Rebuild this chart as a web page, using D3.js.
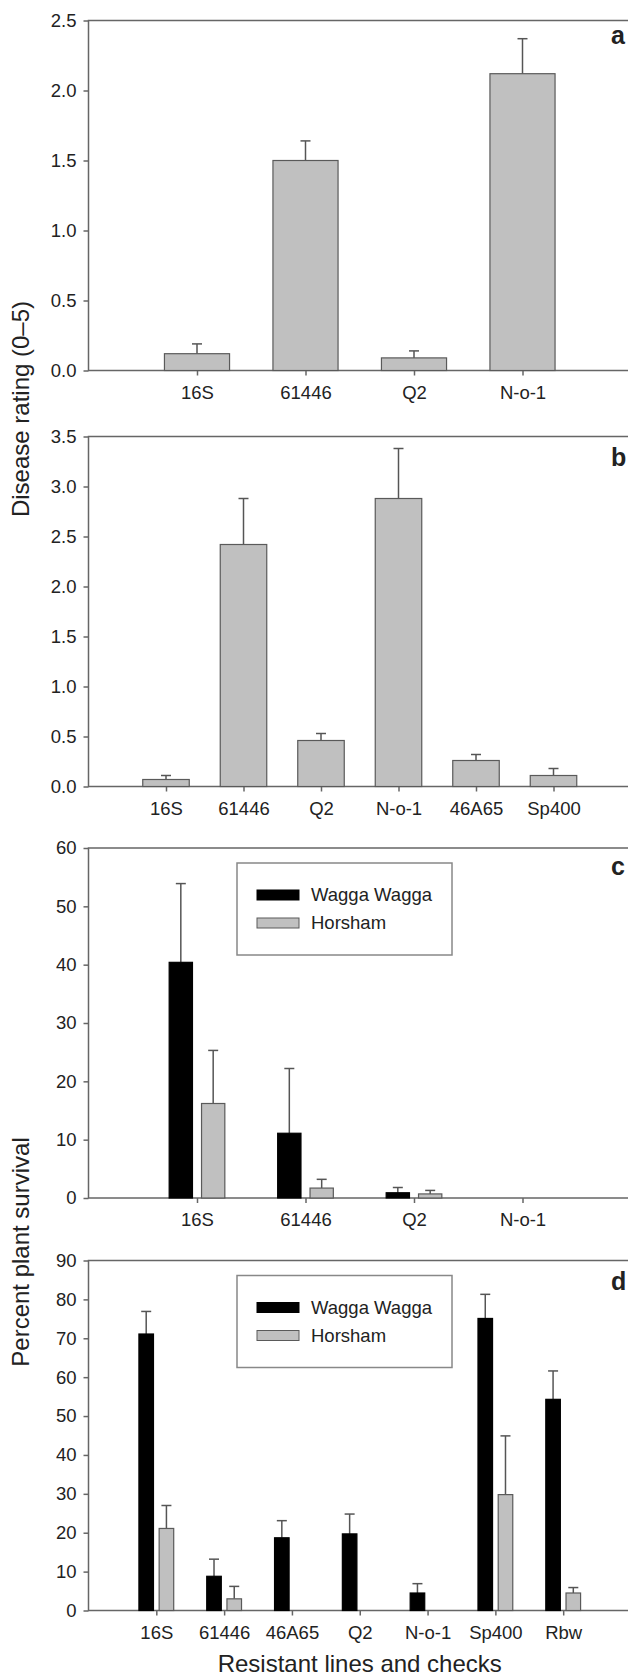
<!DOCTYPE html>
<html>
<head>
<meta charset="utf-8">
<script src="https://cdn.jsdelivr.net/npm/d3@7"></script>
<style>
  body { margin: 0; background: #fff; }
  text { font-family: "Liberation Sans", Arial, sans-serif; }
</style>
</head>
<body>
<div id="chart"></div>
<script>
var width = 628, height = 1678;

// a - disease rating, first trial
var catsA = ["16S", "61446", "Q2", "N-o-1"];
var ratingA = [0.12, 1.50, 0.09, 2.12];
var ratingErrA = [0.07, 0.14, 0.05, 0.25];
var yTicksA = [0, 0.5, 1.0, 1.5, 2.0, 2.5];

// b - disease rating, second trial
var catsB = ["16S", "61446", "Q2", "N-o-1", "46A65", "Sp400"];
var ratingB = [0.07, 2.42, 0.46, 2.88, 0.26, 0.11];
var ratingErrB = [0.04, 0.46, 0.07, 0.50, 0.06, 0.07];
var yTicksB = [0, 0.5, 1.0, 1.5, 2.0, 2.5, 3.0, 3.5];

// c - plant survival
var catsC = ["16S", "61446", "Q2", "N-o-1"];
var waggaC = [40.4, 11.1, 0.9, 0];
var waggaErrC = [13.5, 11.1, 0.9, 0];
var horshamC = [16.2, 1.7, 0.7, 0];
var horshamErrC = [9.1, 1.5, 0.6, 0];
var yTicksC = [0, 10, 20, 30, 40, 50, 60];

// d - plant survival
var catsD = ["16S", "61446", "46A65", "Q2", "N-o-1", "Sp400", "Rbw"];
var waggaD = [71.1, 8.8, 18.7, 19.7, 4.5, 75.1, 54.3];
var waggaErrD = [5.8, 4.4, 4.4, 5.1, 2.4, 6.2, 7.3];
var horshamD = [21.1, 3.0, 0, 0, 0, 29.8, 4.5];
var horshamErrD = [5.9, 3.2, 0, 0, 0, 15.1, 1.4];
var yTicksD = [0, 10, 20, 30, 40, 50, 60, 70, 80, 90];

var siteNames = ["Wagga Wagga", "Horsham"];

var axisColor = "#666", textColor = "#222";
var grey = "#c0c0c0", black = "#000";
var left = 88.5, right = 631, plotH = 350;

var panels = [
  { letter: "a", top: 20.5, letterDy: 23.5, yMax: 2.5, ticks: yTicksA, fmt: d3.format(".1f"), cats: catsA,
    series: [{ name: "rating", values: ratingA, errs: ratingErrA, fill: grey }] },
  { letter: "b", top: 436.5, letterDy: 29, yMax: 3.5, ticks: yTicksB, fmt: d3.format(".1f"), cats: catsB,
    series: [{ name: "rating", values: ratingB, errs: ratingErrB, fill: grey }] },
  { letter: "c", top: 848, letterDy: 27, yMax: 60, ticks: yTicksC, fmt: d3.format("d"), cats: catsC, legend: true,
    series: [{ name: siteNames[0], values: waggaC, errs: waggaErrC, fill: black },
             { name: siteNames[1], values: horshamC, errs: horshamErrC, fill: grey }] },
  { letter: "d", top: 1260.5, letterDy: 29.5, yMax: 90, ticks: yTicksD, fmt: d3.format("d"), cats: catsD, legend: true,
    series: [{ name: siteNames[0], values: waggaD, errs: waggaErrD, fill: black },
             { name: siteNames[1], values: horshamD, errs: horshamErrD, fill: grey }] }
];

var svg = d3.select("#chart").append("svg")
    .attr("width", width)
    .attr("height", height);

panels.forEach(function(p) {
  var g = svg.append("g").attr("transform", "translate(0," + p.top + ")");

  var x = d3.scalePoint().domain(p.cats).range([left, right]).padding(1);
  var y = d3.scaleLinear().domain([0, p.yMax]).range([plotH, 0]);
  var step = x.step();
  var half = p.series.length > 1 ? 0.2565 * step : 0.3 * step;
  var sub = d3.scaleBand()
      .domain(p.series.map(function(s) { return s.name; }))
      .range([-half, half])
      .paddingInner(p.series.length > 1 ? 0.28 : 0);

  // frame
  g.append("rect")
      .attr("x", left).attr("y", 0)
      .attr("width", right - left).attr("height", plotH)
      .attr("fill", "none")
      .attr("stroke", axisColor)
      .attr("stroke-width", 1.5);

  var yAxis = g.append("g")
      .attr("transform", "translate(" + left + ",0)")
      .call(d3.axisLeft(y).tickValues(p.ticks).tickFormat(p.fmt).tickSize(5).tickPadding(7));

  var xAxis = g.append("g")
      .attr("transform", "translate(0," + plotH + ")")
      .call(d3.axisBottom(x).tickSize(5).tickPadding(10));

  [yAxis, xAxis].forEach(function(ax) {
    ax.select(".domain").remove();
    ax.selectAll("line").attr("stroke", axisColor).attr("stroke-width", 1.5);
    ax.selectAll("text").attr("fill", textColor).style("font-size", "18.5px")
      .style("font-family", "'Liberation Sans', Arial, sans-serif");
  });

  // bars + error bars
  p.series.forEach(function(s) {
    var rows = p.cats.map(function(c, i) { return { cat: c, v: s.values[i], e: s.errs[i] }; });
    var bx = function(d) { return x(d.cat) + sub(s.name); };
    var cx = function(d) { return bx(d) + sub.bandwidth() / 2; };

    var withErr = rows.filter(function(d) { return d.e > 0; });
    g.selectAll(null).data(withErr).enter().append("line")
        .attr("x1", cx).attr("x2", cx)
        .attr("y1", function(d) { return y(d.v); })
        .attr("y2", function(d) { return y(d.v + d.e); })
        .attr("stroke", "#555").attr("stroke-width", 1.5);
    g.selectAll(null).data(withErr).enter().append("line")
        .attr("x1", function(d) { return cx(d) - 5; })
        .attr("x2", function(d) { return cx(d) + 5; })
        .attr("y1", function(d) { return y(d.v + d.e); })
        .attr("y2", function(d) { return y(d.v + d.e); })
        .attr("stroke", "#555").attr("stroke-width", 1.5);

    g.selectAll(null).data(rows.filter(function(d) { return d.v > 0; })).enter().append("rect")
        .attr("x", bx)
        .attr("y", function(d) { return y(d.v); })
        .attr("width", sub.bandwidth())
        .attr("height", function(d) { return plotH - y(d.v); })
        .attr("fill", s.fill)
        .attr("stroke", s.fill === black ? black : "#5a5a5a")
        .attr("stroke-width", 1.2);
  });

  // panel letter
  g.append("text")
      .attr("x", 611).attr("y", p.letterDy)
      .attr("fill", textColor)
      .style("font-size", "25px").style("font-weight", "bold")
      .text(p.letter);

  if (p.legend) {
    var lg = g.append("g").attr("transform", "translate(237,15)");
    lg.append("rect")
        .attr("width", 215).attr("height", 92)
        .attr("fill", "#fff").attr("stroke", "#888").attr("stroke-width", 1.5);
    var item = lg.selectAll("g.item").data(p.series).enter().append("g")
        .attr("class", "item")
        .attr("transform", function(d, i) { return "translate(20," + (27 + i * 28) + ")"; });
    item.append("rect")
        .attr("width", 42).attr("height", 10)
        .attr("fill", function(d) { return d.fill; })
        .attr("stroke", function(d) { return d.fill === black ? black : "#5a5a5a"; })
        .attr("stroke-width", 1);
    item.append("text")
        .attr("x", 54).attr("y", 5).attr("dy", "0.35em")
        .attr("fill", textColor)
        .style("font-size", "18.5px")
        .text(function(d) { return d.name; });
  }
});

// axis titles
svg.append("text")
    .attr("transform", "translate(29,409) rotate(-90)")
    .attr("text-anchor", "middle")
    .attr("fill", textColor)
    .style("font-size", "24px")
    .text("Disease rating (0\u20135)");

svg.append("text")
    .attr("transform", "translate(29,1252) rotate(-90)")
    .attr("text-anchor", "middle")
    .attr("fill", textColor)
    .style("font-size", "24px")
    .text("Percent plant survival");

svg.append("text")
    .attr("x", (left + right) / 2).attr("y", 1672)
    .attr("text-anchor", "middle")
    .attr("fill", textColor)
    .style("font-size", "24px")
    .text("Resistant lines and checks");
</script>
</body>
</html>
